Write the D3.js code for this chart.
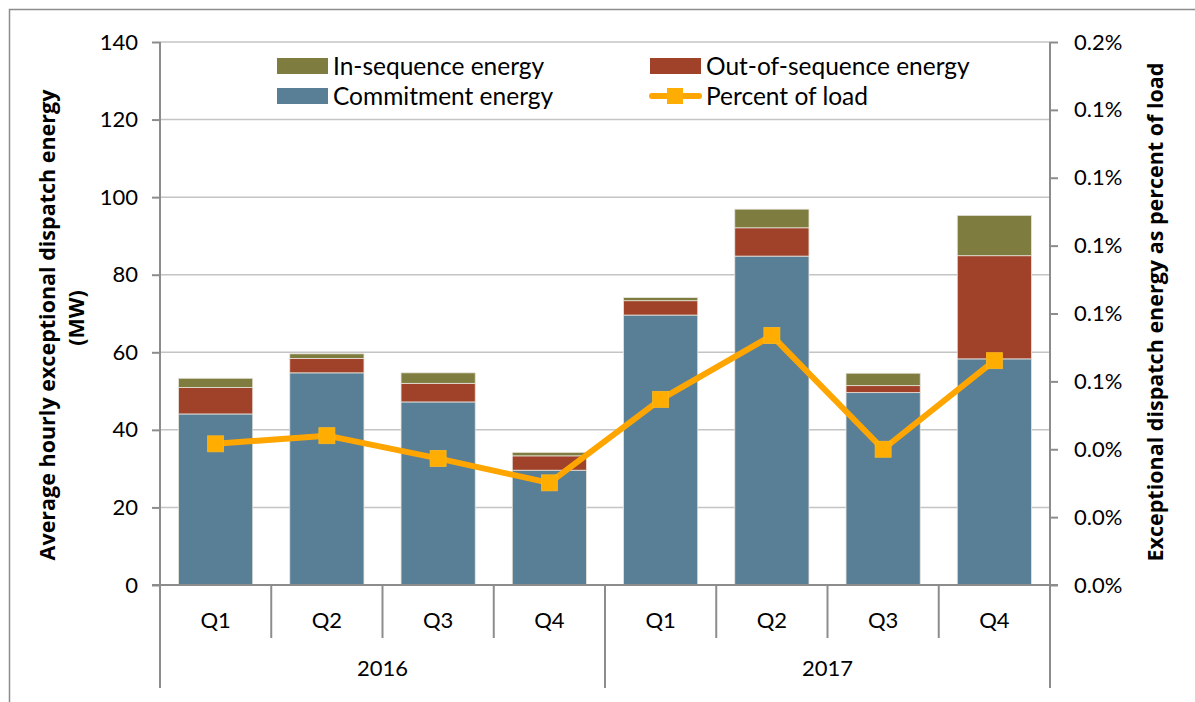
<!DOCTYPE html>
<html>
<head>
<meta charset="utf-8">
<script src="https://cdn.jsdelivr.net/npm/d3@7"></script>
<style>
  body { margin: 0; background: #fff; }
  svg text { font-family: Lato, "Open Sans", sans-serif; fill: #000; }
  svg text.title { font-family: "Open Sans", sans-serif; font-weight: 700; }
</style>
</head>
<body>
<svg id="chart" width="1195" height="702"></svg>
<script>
// data
var quarters = ["Q1", "Q2", "Q3", "Q4", "Q1", "Q2", "Q3", "Q4"];
var years = ["2016", "2016", "2016", "2016", "2017", "2017", "2017", "2017"];
var commitment = [44.1, 54.7, 47.2, 29.6, 69.6, 84.8, 49.6, 58.3];
var outOfSequence = [6.8, 3.7, 4.8, 3.7, 3.7, 7.3, 1.8, 26.6];
var inSequence = [2.4, 1.2, 2.7, 0.9, 0.8, 4.8, 3.2, 10.4];
var percentOfLoad = [0.000416, 0.000440, 0.000373, 0.000301, 0.000547, 0.000735, 0.000400, 0.000661];
var leftTicks = [0, 20, 40, 60, 80, 100, 120, 140];
var rightTicks = [0, 0.0002, 0.0004, 0.0006, 0.0008, 0.0010, 0.0012, 0.0014, 0.0016];

var svg = d3.select("#chart");
var L = 160, R = 1050, T = 42, B = 585;
var axisGrey = "#8c8c8c";

// outer frame
svg.append("path")
  .attr("d", "M9.5,702V9.5H1195")
  .attr("fill", "none").attr("stroke", "#8c8c8c").attr("stroke-width", 1.5);

var idx = d3.range(quarters.length);
var x = d3.scaleBand().domain(idx).range([L, R]).paddingInner(0).paddingOuter(0);
var y = d3.scaleLinear().domain([0, 140]).range([B, T]);
var y2 = d3.scaleLinear().domain([0, 0.0016]).range([B, T]);

// gridlines
svg.append("g").selectAll("line").data(leftTicks.slice(1)).join("line")
  .attr("x1", L).attr("x2", R)
  .attr("y1", function(d) { return y(d); }).attr("y2", function(d) { return y(d); })
  .attr("stroke", "#c4c4c4").attr("stroke-width", 1.5);

// stacked bars
var rows = idx.map(function(i) {
  return { i: i, commit: commitment[i], oos: outOfSequence[i], ins: inSequence[i] };
});
var keys = ["commit", "oos", "ins"];
var colors = { commit: "#587f96", oos: "#a04129", ins: "#7e7c3f" };
var stack = d3.stack().keys(keys)(rows);
var bw = x.bandwidth() * 0.667;

svg.append("g").selectAll("g").data(stack).join("g")
  .attr("fill", function(s) { return colors[s.key]; })
  .selectAll("rect").data(function(s) { return s; }).join("rect")
  .attr("x", function(d) { return x(d.data.i) + (x.bandwidth() - bw) / 2; })
  .attr("width", bw)
  .attr("y", function(d) { return y(d[1]); })
  .attr("height", function(d) { return y(d[0]) - y(d[1]); })
  .attr("stroke", "#e8e4dc").attr("stroke-width", 0.8);

// left axis
var gl = svg.append("g").attr("transform", "translate(" + L + ",0)");
gl.call(d3.axisLeft(y).tickValues(leftTicks).tickSize(8).tickPadding(14).tickFormat(d3.format("d")));
gl.select(".domain").remove();
gl.selectAll(".tick line").attr("stroke", axisGrey).attr("stroke-width", 2);
gl.selectAll("text").style("font-size", "22px").attr("fill", "#000");

// right axis
var gr = svg.append("g").attr("transform", "translate(" + R + ",0)");
gr.call(d3.axisRight(y2).tickValues(rightTicks).tickSize(8).tickPadding(16).tickFormat(d3.format(".1%")));
gr.select(".domain").remove();
gr.selectAll(".tick line").attr("stroke", axisGrey).attr("stroke-width", 2);
gr.selectAll("text").style("font-size", "22px").attr("fill", "#000");

// axis lines and category dividers
svg.append("line").attr("x1", L).attr("x2", L).attr("y1", T).attr("y2", 688)
  .attr("stroke", axisGrey).attr("stroke-width", 2);
svg.append("line").attr("x1", R).attr("x2", R).attr("y1", T).attr("y2", 688)
  .attr("stroke", axisGrey).attr("stroke-width", 2);
svg.append("line").attr("x1", L - 8).attr("x2", R + 8).attr("y1", B).attr("y2", B)
  .attr("stroke", axisGrey).attr("stroke-width", 2);

svg.append("g").selectAll("line").data(idx.slice(1)).join("line")
  .attr("x1", function(i) { return x(i); }).attr("x2", function(i) { return x(i); })
  .attr("y1", B)
  .attr("y2", function(i) { return years[i] !== years[i - 1] ? 688 : 638; })
  .attr("stroke", axisGrey).attr("stroke-width", 2);

// quarter labels
svg.append("g").selectAll("text").data(idx).join("text")
  .attr("x", function(i) { return x(i) + x.bandwidth() / 2; })
  .attr("y", 620).attr("dy", "0.35em")
  .attr("text-anchor", "middle").style("font-size", "22px")
  .text(function(i) { return quarters[i]; });

// year labels
var yearNames = Array.from(new Set(years));
svg.append("g").selectAll("text").data(yearNames).join("text")
  .attr("x", function(yr) {
    var members = idx.filter(function(i) { return years[i] === yr; });
    return (x(members[0]) + x(members[members.length - 1]) + x.bandwidth()) / 2;
  })
  .attr("y", 668).attr("dy", "0.35em")
  .attr("text-anchor", "middle").style("font-size", "22px")
  .text(function(yr) { return yr; });

// percent of load line
var line = d3.line()
  .x(function(d, i) { return x(i) + x.bandwidth() / 2; })
  .y(function(d) { return y2(d); });
svg.append("path").datum(percentOfLoad)
  .attr("d", line).attr("fill", "none")
  .attr("stroke", "#ffa500").attr("stroke-width", 6).attr("stroke-linejoin", "round");
svg.append("g").selectAll("rect").data(percentOfLoad).join("rect")
  .attr("x", function(d, i) { return x(i) + x.bandwidth() / 2 - 8; })
  .attr("y", function(d) { return y2(d) - 8; })
  .attr("width", 16).attr("height", 16)
  .attr("fill", "#ffad00").attr("stroke", "#ffb81c").attr("stroke-width", 0.8);

// axis titles
svg.append("text").attr("class", "title")
  .attr("transform", "translate(47,325) rotate(-90)")
  .attr("text-anchor", "middle").attr("dy", "0.35em")
  .style("font-size", "21.5px")
  .text("Average hourly exceptional dispatch energy");
svg.append("text").attr("class", "title")
  .attr("transform", "translate(76,318) rotate(-90)")
  .attr("text-anchor", "middle").attr("dy", "0.35em")
  .style("font-size", "21.5px")
  .text("(MW)");
svg.append("text").attr("class", "title")
  .attr("transform", "translate(1155,312) rotate(-90)")
  .attr("text-anchor", "middle").attr("dy", "0.35em")
  .style("font-size", "21.5px")
  .text("Exceptional dispatch energy as percent of load");

// legend
var legendItems = [
  { label: "In-sequence energy", type: "box", color: colors.ins, x: 277, y: 66 },
  { label: "Out-of-sequence energy", type: "box", color: colors.oos, x: 650, y: 66 },
  { label: "Commitment energy", type: "box", color: colors.commit, x: 277, y: 96 },
  { label: "Percent of load", type: "line", color: "#ffa500", x: 650, y: 96 }
];
var lg = svg.append("g").selectAll("g").data(legendItems).join("g")
  .attr("transform", function(d) { return "translate(" + d.x + "," + d.y + ")"; });
lg.filter(function(d) { return d.type === "box"; }).append("rect")
  .attr("x", 0).attr("y", -8).attr("width", 51).attr("height", 16)
  .attr("fill", function(d) { return d.color; });
var ll = lg.filter(function(d) { return d.type === "line"; });
ll.append("line").attr("x1", 2).attr("x2", 49).attr("y1", 0).attr("y2", 0)
  .attr("stroke", "#ffa500").attr("stroke-width", 6).attr("stroke-linecap", "round");
ll.append("rect").attr("x", 17).attr("y", -8).attr("width", 16).attr("height", 16)
  .attr("fill", "#ffad00");
lg.append("text").attr("x", 56).attr("y", 0).attr("dy", "0.35em")
  .style("font-size", "24.5px")
  .text(function(d) { return d.label; });
</script>
</body>
</html>
